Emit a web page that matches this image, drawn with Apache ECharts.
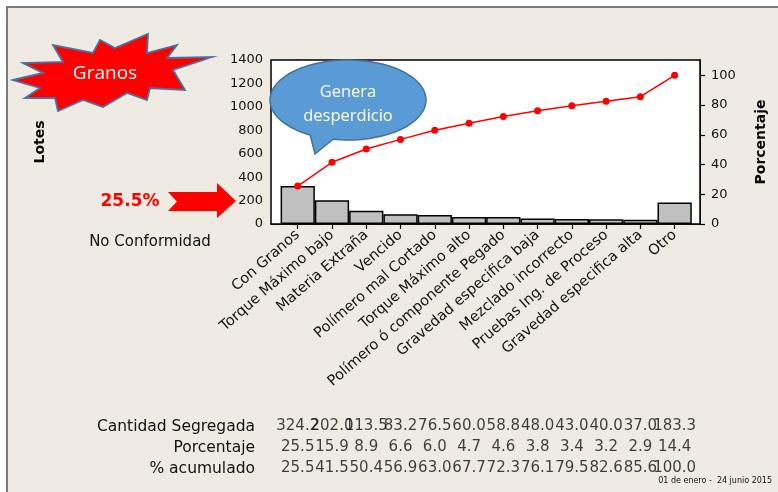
<!DOCTYPE html>
<html>
<head>
<meta charset="utf-8">
<script src="https://cdn.jsdelivr.net/npm/echarts@6/dist/echarts.min.js"></script>
<style>
  html, body { margin: 0; padding: 0; background: #ffffff; }
  #chart { width: 778px; height: 492px; }
</style>
</head>
<body>
<div id="chart"></div>
<script>
// Pareto data: lots segregated by nonconformity (01 de enero - 24 junio 2015)
const categories = [
  'Con Granos', 'Torque Máximo bajo', 'Materia Extraña', 'Vencido',
  'Polímero mal Cortado', 'Torque Máximo alto', 'Polímero ó componente Pegado',
  'Gravedad especifica baja', 'Mezclado incorrecto', 'Pruebas Ing. de Proceso',
  'Gravedad especifica alta', 'Otro'
];
const cantidad   = [324.2, 202.0, 113.5, 83.2, 76.5, 60.0, 58.8, 48.0, 43.0, 40.0, 37.0, 183.3];
const porcentaje = [25.5, 15.9, 8.9, 6.6, 6.0, 4.7, 4.6, 3.8, 3.4, 3.2, 2.9, 14.4];
const acumulado  = [25.5, 41.5, 50.4, 56.9, 63.0, 67.7, 72.3, 76.1, 79.5, 82.6, 85.6, 100.0];
const tableRows  = ['Cantidad Segregada', 'Porcentaje', '% acumulado'];
const pctTicks   = [0, 20, 40, 60, 80, 100];
const lotesMax   = 1400;
const lotesStep  = 200;

const FONT = 'DejaVu Sans';
const idx = categories.map((_, i) => i);

// the percentage axis is scaled so that 100 % equals the total of all lots
const total = cantidad.reduce((a, b) => a + b, 0);
const pctMax = lotesMax / total * 100;

const barData  = cantidad.map((v, i) => [i, v]);
const lineData = acumulado.map((v, i) => [i, v]);
const tableData = [];
[cantidad, porcentaje, acumulado].forEach((row, r) => {
  row.forEach((v, i) => tableData.push([i, r, v]));
});

// callout bubble outline: ellipse with a tail pointing down-left
function bubblePoints(cx, cy, rx, ry, a0, a1, tip) {
  const pts = [];
  for (let a = a0; a <= a1; a += 3) {
    const t = a * Math.PI / 180;
    pts.push([cx + rx * Math.cos(t), cy + ry * Math.sin(t)]);
  }
  pts.push(tip);
  return pts;
}

const xRange = { min: -0.78, max: 11.74 };

const chart = echarts.init(document.getElementById('chart'), null, { renderer: 'canvas' });
chart.setOption({
  backgroundColor: '#ffffff',
  animation: false,
  textStyle: { fontFamily: FONT },
  grid: [
    { left: 271, right: 78, top: 60, bottom: 268, show: true,
      backgroundColor: '#ffffff', borderColor: '#000000', borderWidth: 1.5, z: 1 },
    { left: 271, right: 78, top: 416, height: 63 }
  ],
  xAxis: [
    {
      type: 'value', gridIndex: 0, min: xRange.min, max: xRange.max,
      axisLine: { show: true, lineStyle: { color: '#000', width: 1.5 } },
      axisTick: { show: true, customValues: idx, length: 5, lineStyle: { color: '#000', width: 1.2 } },
      axisLabel: {
        customValues: idx, rotate: 41, margin: 9, fontSize: 14.5, color: '#111',
        fontFamily: FONT, formatter: v => categories[Math.round(v)]
      },
      splitLine: { show: false }
    },
    { type: 'value', gridIndex: 1, min: xRange.min, max: xRange.max, show: false }
  ],
  yAxis: [
    {
      type: 'value', gridIndex: 0, position: 'left', min: 0, max: lotesMax, interval: lotesStep,
      name: 'Lotes', nameLocation: 'middle', nameRotate: 90, nameGap: 224,
      nameTextStyle: { fontSize: 14, fontWeight: 'bold', color: '#000', fontFamily: FONT },
      axisLine: { show: true, lineStyle: { color: '#000', width: 1.5 } },
      axisTick: { show: true, length: 5, lineStyle: { color: '#000', width: 1.2 } },
      axisLabel: { fontSize: 13, color: '#111', margin: 8, fontFamily: FONT, formatter: v => String(v) },
      splitLine: { show: false }
    },
    {
      type: 'value', gridIndex: 0, position: 'right', min: 0, max: pctMax,
      name: 'Porcentaje', nameLocation: 'middle', nameRotate: 90, nameGap: 54,
      nameTextStyle: { fontSize: 14, fontWeight: 'bold', color: '#000', fontFamily: FONT },
      axisLine: { show: true, lineStyle: { color: '#000', width: 1.5 } },
      axisTick: { show: true, customValues: pctTicks, length: 5, lineStyle: { color: '#000', width: 1.2 } },
      axisLabel: { customValues: pctTicks, fontSize: 13, color: '#111', margin: 11, fontFamily: FONT },
      splitLine: { show: true, lineStyle: { color: '#c4c4c4', width: 1.5, type: [8, 5] } }
    },
    {
      type: 'category', gridIndex: 1, data: tableRows, inverse: true,
      axisLine: { show: false }, axisTick: { show: false }, splitLine: { show: false },
      axisLabel: { fontSize: 15.5, color: '#111', margin: 16, fontFamily: FONT }
    }
  ],
  series: [
    {
      name: 'Lotes', type: 'bar', xAxisIndex: 0, yAxisIndex: 0,
      data: barData, barWidth: '100%',
      itemStyle: { color: '#c0c0c0', borderColor: '#000', borderWidth: 1.5 },
      z: 2
    },
    {
      name: '% acumulado', type: 'line', xAxisIndex: 0, yAxisIndex: 1,
      data: lineData, symbol: 'circle', symbolSize: 7,
      lineStyle: { color: '#ff0000', width: 1.5 },
      itemStyle: { color: '#ff0000' },
      z: 4
    },
    {
      name: 'Tabla', type: 'scatter', xAxisIndex: 1, yAxisIndex: 2,
      data: tableData, symbolSize: 1,
      itemStyle: { color: 'rgba(0,0,0,0)' },
      label: {
        show: true, position: 'inside', fontSize: 15, color: '#111', fontFamily: FONT,
        formatter: p => p.value[2].toFixed(1)
      },
      emphasis: { disabled: true }
    }
  ],
  graphic: [
    // slide panel behind the chart
    { type: 'rect', z: -20, silent: true,
      shape: { x: 7, y: 7, width: 790, height: 500 },
      style: { fill: '#efebe2', stroke: '#7a7a7a', lineWidth: 2 } },
    // starburst with its caption
    { type: 'polygon', z: 10,
      shape: { points: [[13,80],[43,73],[23,63],[63,62],[53,45],[93,53],[100,40],[115,48],
                        [148,34],[147,53],[177,45],[167,58],[212,57],[173,70],[185,90],[150,88],
                        [147,100],[127,93],[103,107],[83,100],[58,111],[55,98],[25,98],[40,88]] },
      style: { fill: '#ff0000', stroke: '#4a72a0', lineWidth: 1.8 } },
    { type: 'text', z: 11, x: 105, y: 74,
      style: { text: 'Granos', fill: '#ffffff', font: '19px "Open Sans"',
               textAlign: 'center', textVerticalAlign: 'middle' } },
    // callout bubble
    { type: 'polygon', z: 10,
      shape: { points: bubblePoints(348, 100, 78, 40, 119, 462, [315, 154]) },
      style: { fill: '#5b9bd5', stroke: '#41719c', lineWidth: 1.5 } },
    { type: 'text', z: 11, x: 348, y: 92,
      style: { text: 'Genera', fill: '#ffffff', font: '16.5px "Open Sans"',
               textAlign: 'center', textVerticalAlign: 'middle' } },
    { type: 'text', z: 11, x: 348, y: 116,
      style: { text: 'desperdicio', fill: '#ffffff', font: '16.5px "Open Sans"',
               textAlign: 'center', textVerticalAlign: 'middle' } },
    // highlighted share and arrow
    { type: 'text', z: 11, x: 130, y: 202,
      style: { text: porcentaje[0].toFixed(1) + '%', fill: '#ff0000', font: 'bold 17px "DejaVu Sans"',
               textAlign: 'center', textVerticalAlign: 'middle' } },
    { type: 'polygon', z: 10,
      shape: { points: [[168,192],[217,192],[217,183],[236,201],[217,218],[217,211],[168,211],[177,201.5]] },
      style: { fill: '#ff0000' } },
    // category axis title
    { type: 'text', z: 11, x: 150, y: 242,
      style: { text: 'No Conformidad', fill: '#111', font: '15px "DejaVu Sans"',
               textAlign: 'center', textVerticalAlign: 'middle' } },
    // period note
    { type: 'text', z: 11, x: 772, y: 481,
      style: { text: '01 de enero -  24 junio 2015', fill: '#111', font: '8px "DejaVu Sans"',
               textAlign: 'right', textVerticalAlign: 'middle' } }
  ]
});
</script>
</body>
</html>
